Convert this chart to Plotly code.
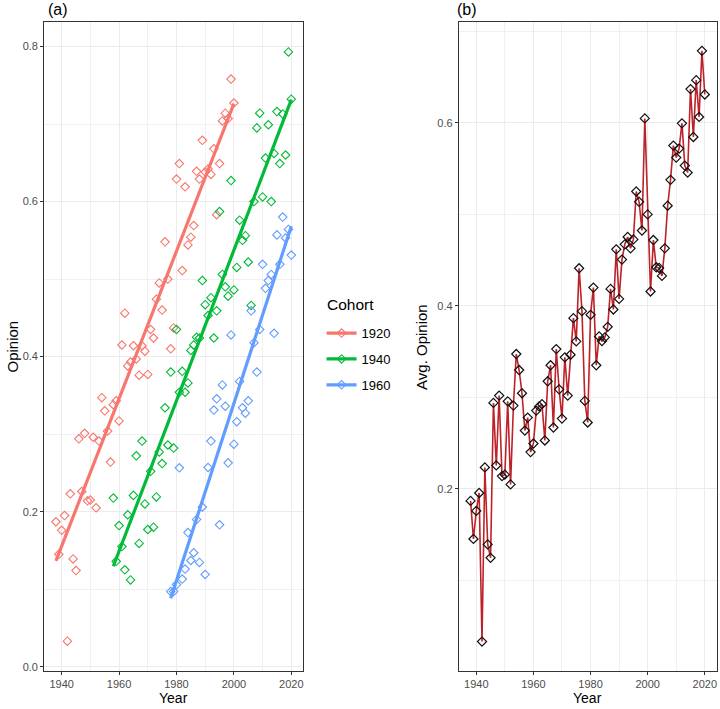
import numpy as np
import plotly.graph_objects as go

# ---------------- data ----------------
years_1920 = list(range(1938, 2001))
opinion_1920 = [0.187, 0.145, 0.176, 0.195, 0.033, 0.223, 0.139, 0.124, 0.294, 0.226,
                0.301, 0.214, 0.215, 0.296, 0.205, 0.291, 0.347, 0.330, 0.304, 0.264,
                0.338, 0.343, 0.317, 0.415, 0.456, 0.388, 0.393, 0.414, 0.397, 0.376,
                0.414, 0.407, 0.377, 0.435, 0.424, 0.474, 0.495, 0.460, 0.548, 0.500,
                0.410, 0.437, 0.629, 0.649, 0.511, 0.619, 0.544, 0.554, 0.569, 0.639,
                0.629, 0.679, 0.638, 0.642, 0.635, 0.668, 0.583, 0.649, 0.704, 0.714,
                0.707, 0.758, 0.727]

years_1940 = list(range(1958, 2021))
opinion_1940 = [0.2175, 0.136, 0.182, 0.155, 0.125, 0.196, 0.112, 0.221, 0.272, 0.159,
                0.291, 0.210, 0.177, 0.252, 0.180, 0.219, 0.277, 0.262, 0.334, 0.286,
                0.380, 0.282, 0.435, 0.354, 0.381, 0.354, 0.366, 0.408, 0.415, 0.425,
                0.424, 0.498, 0.467, 0.453, 0.476, 0.424, 0.459, 0.587, 0.506, 0.490,
                0.478, 0.627, 0.486, 0.515, 0.576, 0.550, 0.556, 0.522, 0.466, 0.600,
                0.695, 0.714, 0.606, 0.656, 0.699, 0.600, 0.662, 0.716, 0.649, 0.713,
                0.660, 0.793, 0.732]

years_1960 = list(range(1978, 2021))
opinion_1960 = [0.097, 0.097, 0.106, 0.2565, 0.113, 0.126, 0.173, 0.137, 0.147, 0.190,
                0.1345, 0.206, 0.119, 0.257, 0.291, 0.331, 0.3455, 0.183, 0.3635, 0.336,
                0.263, 0.428, 0.287, 0.316, 0.368, 0.334, 0.327, 0.343, 0.459, 0.418,
                0.380, 0.435, 0.519, 0.488, 0.498, 0.506, 0.430, 0.557, 0.519, 0.580,
                0.553, 0.564, 0.531]

avg_years = list(range(1938, 2021))
avg_opinion = [0.1866, 0.145, 0.1757, 0.1953, 0.0328, 0.2232, 0.139, 0.1244, 0.2938, 0.2254,
               0.3018, 0.2138, 0.2153, 0.2956, 0.2047, 0.2909, 0.3473, 0.3298, 0.3044, 0.2636,
               0.2778, 0.240, 0.2494, 0.2854, 0.290, 0.2924, 0.2527, 0.3175, 0.335, 0.2669,
               0.3527, 0.3087, 0.2767, 0.3437, 0.3018, 0.3465, 0.3865, 0.3611, 0.4411, 0.3942,
               0.296, 0.2724, 0.3902, 0.420, 0.335, 0.3666, 0.3615, 0.3655, 0.3771, 0.4185,
               0.396, 0.4618, 0.4076, 0.4506, 0.4673, 0.4753, 0.4629, 0.4727, 0.5251, 0.5138,
               0.4824, 0.605, 0.500, 0.4157, 0.472, 0.4422, 0.4414, 0.4327, 0.4629, 0.5095,
               0.5378, 0.5753, 0.5622, 0.572, 0.5996, 0.5534, 0.5458, 0.6371, 0.5847, 0.6469,
               0.6066, 0.6789, 0.6312]

cohort_names = ["1920", "1940", "1960"]
cohort_colors = ["#F8766D", "#00BA38", "#619CFF"]
x_ticks = [1940, 1960, 1980, 2000, 2020]
y_ticks_left = [0.0, 0.2, 0.4, 0.6, 0.8]
y_ticks_right = [0.2, 0.4, 0.6]

# ---------------- figure ----------------
W, H = 720, 709
FONT = "Liberation Sans"
fig = go.Figure()

def px_x(p):
    return p / W

def px_y(p):
    return 1 - p / H

cohorts = [(years_1920, opinion_1920), (years_1940, opinion_1940), (years_1960, opinion_1960)]

# points
for (yrs, vals), name, col in zip(cohorts, cohort_names, cohort_colors):
    fig.add_trace(go.Scatter(x=yrs, y=vals, mode="markers", xaxis="x", yaxis="y",
                             marker=dict(symbol="diamond-open", size=6.5, color=col,
                                         line=dict(width=1.1, color=col)),
                             showlegend=False, legendgroup=name))
# regression lines
for (yrs, vals), name, col in zip(cohorts, cohort_names, cohort_colors):
    b, a = np.polyfit(np.array(yrs, float), np.array(vals, float), 1)
    xs = [min(yrs), max(yrs)]
    fig.add_trace(go.Scatter(x=xs, y=[a + b * v for v in xs], mode="lines", xaxis="x", yaxis="y",
                             line=dict(color=col, width=3.2), showlegend=False, legendgroup=name))
# legend entries
for name, col in zip(cohort_names, cohort_colors):
    fig.add_trace(go.Scatter(x=[None], y=[None], mode="lines+markers", name=name,
                             xaxis="x", yaxis="y", legendgroup=name,
                             line=dict(color=col, width=3.2),
                             marker=dict(symbol="diamond-open", size=6.5, color=col,
                                         line=dict(width=1.1, color=col))))

# right panel
fig.add_trace(go.Scatter(x=avg_years, y=avg_opinion, mode="lines", xaxis="x2", yaxis="y2",
                         line=dict(color="#BD2229", width=1.6), showlegend=False))
fig.add_trace(go.Scatter(x=avg_years, y=avg_opinion, mode="markers", xaxis="x2", yaxis="y2",
                         marker=dict(symbol="diamond-open", size=7, color="#111111",
                                     line=dict(width=1.2, color="#111111")),
                         showlegend=False))

ytop, ybot = 22.5, 672.5
axis_common = dict(showline=True, mirror=True, linecolor="#333333", linewidth=1,
                   ticks="outside", ticklen=3, tickcolor="#333333", tickwidth=1,
                   showgrid=True, gridcolor="#EBEBEB", gridwidth=1.1, zeroline=False,
                   tickfont=dict(family=FONT, size=11, color="#4D4D4D"))

fig.update_layout(
    width=W, height=H, margin=dict(l=0, r=0, t=0, b=0),
    paper_bgcolor="white", plot_bgcolor="white",
    font=dict(family=FONT, color="black"),
    xaxis=dict(domain=[px_x(44.2), px_x(303.5)], range=[1933.9, 2024.1],
               tickvals=x_ticks, anchor="y",
               minor=dict(tickvals=[1950, 1970, 1990, 2010], showgrid=True,
                          gridcolor="#F0F0F0", gridwidth=0.6, ticks=""),
               **axis_common),
    yaxis=dict(domain=[px_y(ybot), px_y(ytop)], range=[-0.005, 0.831],
               tickvals=y_ticks_left, ticktext=["0.0", "0.2", "0.4", "0.6", "0.8"], anchor="x",
               minor=dict(tickvals=[0.1, 0.3, 0.5, 0.7], showgrid=True,
                          gridcolor="#F0F0F0", gridwidth=0.6, ticks=""),
               **axis_common),
    xaxis2=dict(domain=[px_x(459.5), px_x(717.5)], range=[1933.9, 2024.1],
                tickvals=x_ticks, anchor="y2",
                minor=dict(tickvals=[1950, 1970, 1990, 2010], showgrid=True,
                           gridcolor="#F0F0F0", gridwidth=0.6, ticks=""),
                **axis_common),
    yaxis2=dict(domain=[px_y(ybot), px_y(ytop)], range=[0.001, 0.710],
                tickvals=y_ticks_right, ticktext=["0.2", "0.4", "0.6"], anchor="x2",
                minor=dict(tickvals=[0.1, 0.3, 0.5, 0.7], showgrid=True,
                           gridcolor="#F0F0F0", gridwidth=0.6, ticks=""),
                **axis_common),
    legend=dict(x=px_x(322), y=px_y(319), xanchor="left", yanchor="top",
                font=dict(family=FONT, size=13, color="black"),
                tracegroupgap=6, bgcolor="rgba(0,0,0,0)"),
    showlegend=True,
)

annos = [
    dict(text="(a)", x=px_x(47), y=px_y(10), xanchor="left", yanchor="middle", font_size=16),
    dict(text="(b)", x=px_x(457), y=px_y(10), xanchor="left", yanchor="middle", font_size=16),
    dict(text="Cohort", x=px_x(326), y=px_y(305), xanchor="left", yanchor="middle", font_size=15.5),
    dict(text="Opinion", x=px_x(13), y=px_y(347.5), textangle=-90, xanchor="center",
         yanchor="middle", font_size=15),
    dict(text="Avg. Opinion", x=px_x(422), y=px_y(347.5), textangle=-90, xanchor="center",
         yanchor="middle", font_size=15),
    dict(text="Year", x=px_x(173.8), y=0, xanchor="center", yanchor="bottom", font_size=14),
    dict(text="Year", x=px_x(588.5), y=0, xanchor="center", yanchor="bottom", font_size=14),
]
for a in annos:
    fs = a.pop("font_size")
    fig.add_annotation(xref="paper", yref="paper", showarrow=False, borderpad=0,
                       font=dict(family=FONT, size=fs, color="black"), **a)

fig.write_html("out.html")
